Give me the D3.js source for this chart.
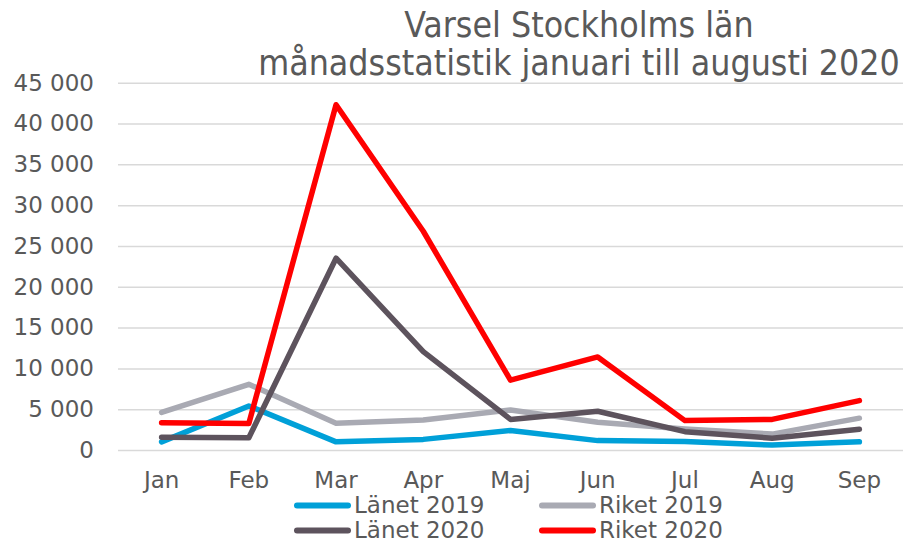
<!DOCTYPE html>
<html><head><meta charset="utf-8">
<script src="https://cdn.jsdelivr.net/npm/d3@7"></script>
<style>body{margin:0;background:#fff}svg{display:block}</style>
</head><body>
<svg id="c" width="906" height="543"></svg>
<script>
const months = ["Jan","Feb","Mar","Apr","Maj","Jun","Jul","Aug","Sep"];
const lanet2019 = [1000, 5400, 1000, 1300, 2400, 1150, 1050, 600, 1000];
const riket2019 = [4600, 8050, 3270, 3670, 4900, 3400, 2570, 1950, 3900];
const lanet2020 = [1550, 1500, 23500, 12050, 3750, 4750, 2250, 1450, 2550];
const riket2020 = [3350, 3250, 42300, 26800, 8550, 11400, 3600, 3750, 6050];
const yTicks = [0,5000,10000,15000,20000,25000,30000,35000,40000,45000];
const seriesNames = ["Länet 2019","Riket 2019","Länet 2020","Riket 2020"];
const seriesColors = ["#00A0D8","#A9AAB3","#5D535D","#FF0000"];
const titleLines = ["Varsel Stockholms län","månadsstatistik januari till augusti 2020"];

(function(){
const series = [
  {name: seriesNames[0], values: lanet2019, color: seriesColors[0]},
  {name: seriesNames[1], values: riket2019, color: seriesColors[1]},
  {name: seriesNames[2], values: lanet2020, color: seriesColors[2]},
  {name: seriesNames[3], values: riket2020, color: seriesColors[3]}
];
const drawOrder = [1, 0, 2, 3];

const svg = d3.select("#c");
const font = "'DejaVu Sans', Verdana, sans-serif";
const textColor = "#595959";
const mLeft = 118, mRight = 903, mTop = 82.7, mBottom = 450;

const x = d3.scaleBand().domain(months).range([mLeft, mRight]);
const y = d3.scaleLinear().domain([0, 45000]).range([mBottom, mTop]);

const yAxis = d3.axisLeft(y).tickValues(yTicks).tickSize(-(mRight-mLeft)).tickPadding(24)
  .tickFormat(d => d3.format(",")(d).replace(/,/g, " "));
const gy = svg.append("g").attr("transform", `translate(${mLeft},0)`).call(yAxis);
gy.select(".domain").remove();
gy.selectAll(".tick line").attr("stroke", "#D9D9D9").attr("stroke-width", 1.5);
gy.selectAll(".tick text").attr("fill", textColor).attr("font-family", font).attr("font-size", 23);

const xAxis = d3.axisBottom(x).tickSize(0).tickPadding(22);
const gx = svg.append("g").attr("transform", `translate(0,${mBottom})`).call(xAxis);
gx.select(".domain").remove();
gx.selectAll(".tick text").attr("fill", textColor).attr("font-family", font).attr("font-size", 23);

const line = d3.line().x((d,i) => x(months[i]) + x.bandwidth()/2).y(d => y(d));
drawOrder.forEach(k => {
  const s = series[k];
  svg.append("path").datum(s.values).attr("d", line).attr("fill", "none")
    .attr("stroke", s.color).attr("stroke-width", 5.5).attr("stroke-linejoin", "round").attr("stroke-linecap", "round");
});

const legPos = [[295, 505.5], [540, 505.5], [295, 530.5], [540, 530.5]];
series.forEach((s, i) => {
  const [lx, ly] = legPos[i];
  const g = svg.append("g").attr("transform", `translate(${lx},${ly})`);
  g.append("line").attr("x1", 2).attr("x2", 53).attr("y1", 0).attr("y2", 0)
    .attr("stroke", s.color).attr("stroke-width", 6).attr("stroke-linecap", "round");
  g.append("text").attr("x", 59).attr("y", 0).attr("dy", "0.33em").text(s.name)
    .attr("fill", textColor).attr("font-family", font).attr("font-size", 23);
});

const tFont = "'DejaVu Sans Condensed', 'DejaVu Sans', sans-serif";
const t2 = svg.append("text").attr("x", 579).attr("y", 75).attr("text-anchor", "middle")
  .attr("font-family", tFont).attr("font-size", 32).attr("fill", textColor).text(titleLines[1]);
const w = t2.node().getComputedTextLength();
const fs = 32 * 642 / w;
t2.attr("font-size", fs);
svg.append("text").attr("x", 579).attr("y", 37).attr("text-anchor", "middle")
  .attr("font-family", tFont).attr("font-size", fs).attr("fill", textColor).text(titleLines[0]);
})();
</script>
</body></html>
